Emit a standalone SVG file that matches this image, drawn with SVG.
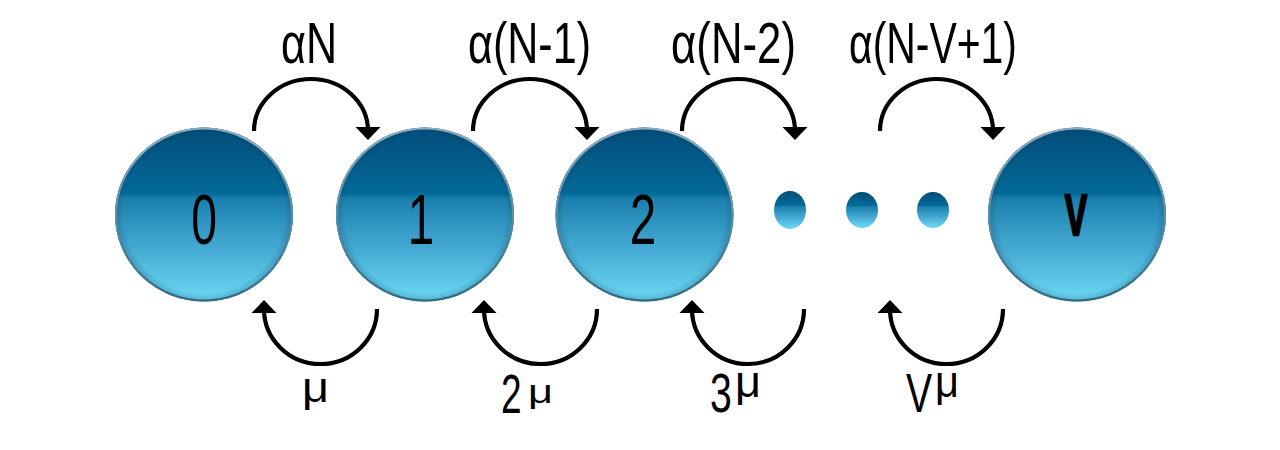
<svg xmlns="http://www.w3.org/2000/svg" width="1280" height="450" viewBox="0 0 1280 450">
<defs>
<linearGradient id="ball" x1="0" y1="0" x2="0" y2="1">
<stop offset="0" stop-color="#024d7b"/>
<stop offset="0.38" stop-color="#046b98"/>
<stop offset="0.41" stop-color="#1c80ae"/>
<stop offset="0.7" stop-color="#45aad3"/>
<stop offset="1" stop-color="#6ddaf5"/>
</linearGradient>
<radialGradient id="rim" cx="0.5" cy="0.5" r="0.5">
<stop offset="0.9" stop-color="#0d3a52" stop-opacity="0"/>
<stop offset="0.97" stop-color="#0d3a52" stop-opacity="0.18"/>
<stop offset="1" stop-color="#0d3a52" stop-opacity="0.45"/>
</radialGradient>
<linearGradient id="edge" x1="0" y1="0" x2="0" y2="1">
<stop offset="0" stop-color="#8fb0c4"/>
<stop offset="0.5" stop-color="#5d8fa8"/>
<stop offset="1" stop-color="#336a80"/>
</linearGradient>
<marker id="ah" markerUnits="userSpaceOnUse" markerWidth="14" markerHeight="26" viewBox="0 -13 14 26" refX="4" refY="0" orient="auto">
<polygon points="0,-12.5 13,0 0,12.5" fill="#000"/>
</marker>
</defs>
<style>
.ball{fill:url(#ball)}
.rim{fill:url(#rim)}
.edge{fill:none;stroke:url(#edge);stroke-width:2}
.dot{fill:url(#ball)}
.arc{fill:none;stroke:#000;stroke-width:4.2;marker-end:url(#ah)}
.lbl{font-family:"Liberation Sans",Arial,sans-serif;fill:#000}
.num{font-family:"Liberation Sans",Arial,sans-serif;font-size:70px;fill:#000;text-anchor:middle}
</style>
<rect width="1280" height="450" fill="#fff"/>

<g id="node-0">
<ellipse class="ball" cx="204" cy="214.5" rx="89" ry="87"/>
<ellipse class="rim" cx="204" cy="214.5" rx="89" ry="87"/>
<ellipse class="edge" cx="204" cy="214.5" rx="88" ry="86"/>
<text class="num" transform="translate(204,244) scale(0.66,1)">0</text>
</g>
<g id="node-1">
<ellipse class="ball" cx="425" cy="214.5" rx="89" ry="87"/>
<ellipse class="rim" cx="425" cy="214.5" rx="89" ry="87"/>
<ellipse class="edge" cx="425" cy="214.5" rx="88" ry="86"/>
<text class="num" transform="translate(421,244) scale(0.68,1)">1</text>
</g>
<g id="node-2">
<ellipse class="ball" cx="644.5" cy="214.5" rx="89" ry="87"/>
<ellipse class="rim" cx="644.5" cy="214.5" rx="89" ry="87"/>
<ellipse class="edge" cx="644.5" cy="214.5" rx="88" ry="86"/>
<text class="num" transform="translate(643,244) scale(0.68,1)">2</text>
</g>
<g id="dots">
<ellipse class="dot" cx="790" cy="210" rx="16" ry="19"/>
<ellipse class="dot" cx="862" cy="210" rx="16" ry="18"/>
<ellipse class="dot" cx="933" cy="210" rx="16" ry="18"/>
</g>
<g id="node-V">
<ellipse class="ball" cx="1077" cy="214.5" rx="89" ry="87"/>
<ellipse class="rim" cx="1077" cy="214.5" rx="89" ry="87"/>
<ellipse class="edge" cx="1077" cy="214.5" rx="88" ry="86"/>
<text class="num" style="font-size:58px;font-weight:bold;stroke:#000;stroke-width:2.5" transform="translate(1076,235) scale(0.58,1)">V</text>
</g>

<g id="connectors">
<path class="arc" d="M254,131 A57,52 0 0 1 368,131"/>
<path class="arc" d="M473,131 A57,52 0 0 1 587,131"/>
<path class="arc" d="M682,131 A56.5,52 0 0 1 795,131"/>
<path class="arc" d="M880,131 A56.5,52 0 0 1 993,131"/>
<path class="arc" d="M377,309 A56.5,55 0 0 1 264,309"/>
<path class="arc" d="M597,309 A56.5,55 0 0 1 484,309"/>
<path class="arc" d="M804,309 A56,55 0 0 1 692,309"/>
<path class="arc" d="M1003,309 A56.5,55 0 0 1 890,309"/>
</g>

<g id="labels">
<text class="lbl" x="281" y="63" font-size="57" textLength="56" lengthAdjust="spacingAndGlyphs">αN</text>
<text class="lbl" x="468" y="63" font-size="57" textLength="123" lengthAdjust="spacingAndGlyphs">α(N-1)</text>
<text class="lbl" x="671" y="63" font-size="57" textLength="125" lengthAdjust="spacingAndGlyphs">α(N-2)</text>
<text class="lbl" x="849" y="63" font-size="57" textLength="168" lengthAdjust="spacingAndGlyphs">α(N-V+1)</text>
<text class="lbl" x="302" y="402" font-size="42" textLength="27" lengthAdjust="spacingAndGlyphs">μ</text>
<g id="label-2mu">
<text class="lbl" font-size="56" transform="translate(501,413) scale(0.66,1)">2</text>
<text class="lbl" x="528" y="403" font-size="34" textLength="25" lengthAdjust="spacingAndGlyphs">μ</text>
</g>
<g id="label-3mu">
<text class="lbl" font-size="56" transform="translate(710,412) scale(0.7,1)">3</text>
<text class="lbl" x="735" y="397" font-size="44" textLength="26" lengthAdjust="spacingAndGlyphs">μ</text>
</g>
<g id="label-Vmu">
<text class="lbl" font-size="56" transform="translate(906,412) scale(0.7,1)">V</text>
<text class="lbl" x="935" y="397" font-size="44" textLength="24" lengthAdjust="spacingAndGlyphs">μ</text>
</g>
</g>
</svg>
